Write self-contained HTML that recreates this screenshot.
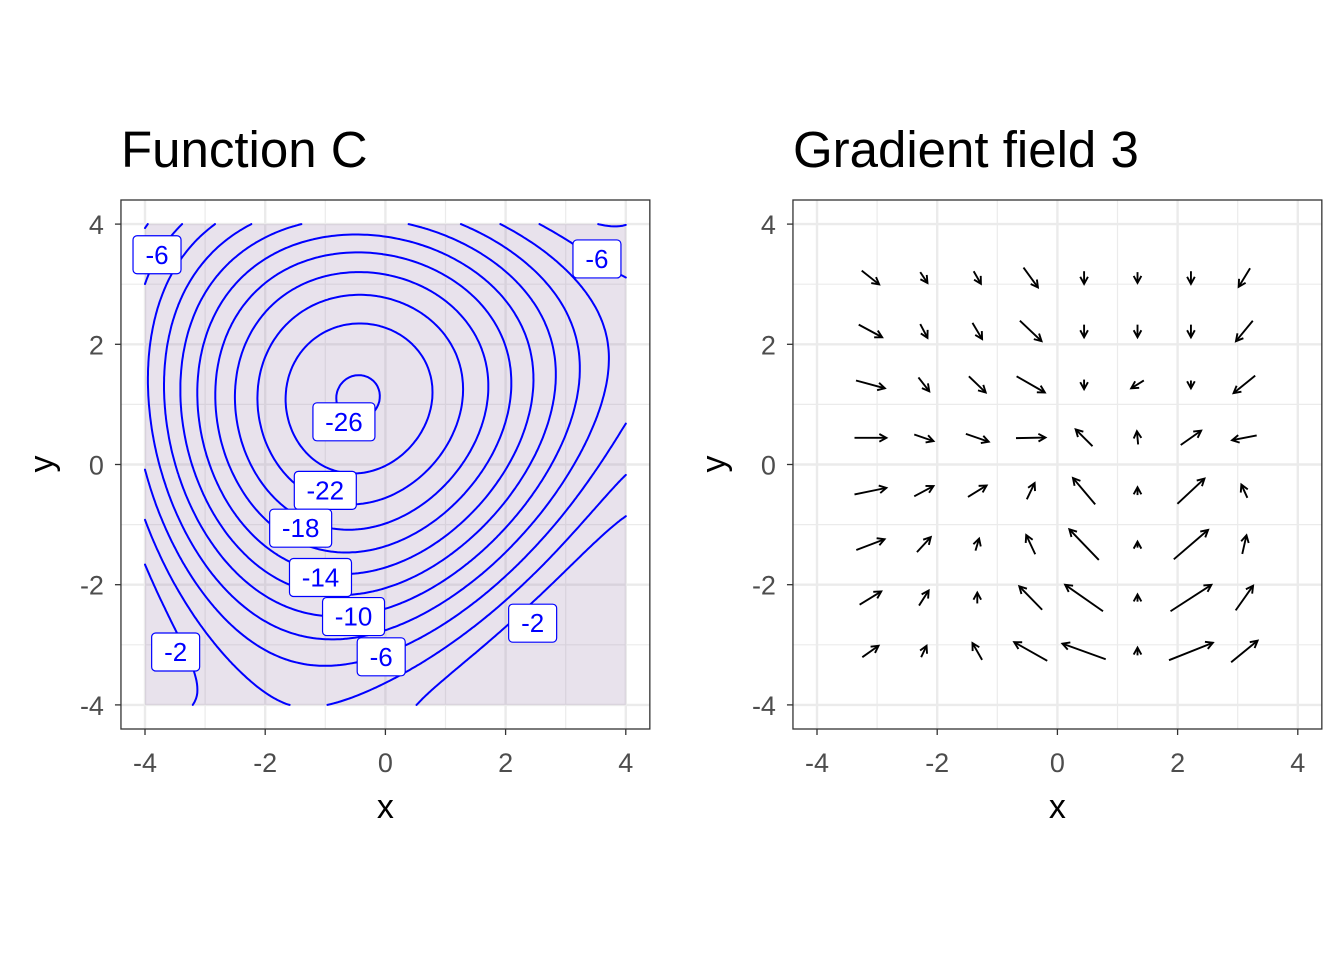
<!DOCTYPE html>
<html><head><meta charset="utf-8"><style>
html,body{margin:0;padding:0;background:#fff}
svg{display:block;font-family:"Liberation Sans",sans-serif}
</style></head><body>
<svg id="chart" width="1344" height="960" viewBox="0 0 1344 960">
<rect width="1344" height="960" fill="#fff"/>
<g id="left"></g>
<g id="right"></g>
</svg>
<script>
// ---- data ----
const gridX = [-4,-3,-2,-1,0,1,2,3,4];
const gridY = [4,3,2,1,0,-1,-2,-3,-4];
const zRow4 = [-5,-7.9,-10.6,-11.8,-11.8,-10.3,-8.2,-5.7,-4.5];
const zRow3 = [-5.9,-10.9,-15.2,-18.1,-18.3,-16.8,-13.2,-8,-5.5];
const zRow2 = [-7,-13.6,-20,-23.5,-24,-20.5,-15.3,-10.3,-7];
const zRow1 = [-7.6,-13.8,-20.2,-25.5,-26.6,-22,-16.5,-11.5,-6];
const zRow0 = [-5.4,-12.3,-19.2,-23.5,-23.3,-20.2,-14,-9.2,-4.1];
const zRowM1 = [-3.8,-10.2,-16.5,-19,-16.3,-11.9,-8.6,-4.4,-1.8];
const zRowM2 = [-2.2,-6.7,-12,-13.3,-10,-6.5,-3.7,-2.2,-0.5];
const zRowM3 = [-1.3,-3.2,-5.8,-7.9,-5.5,-4,-2.1,-0.8,0.5];
const zRowM4 = [0.5,-1.8,-3.6,-4.9,-3.4,-1.6,0,1.5,2.5];
const levels = [-26,-24,-22,-20,-18,-16,-14,-12,-10,-8,-6,-4,-2];
const labelText = ["-6","-6","-26","-22","-18","-14","-10","-6","-2","-2"];
const labelX = [-3.8,3.52,-0.69,-1.0,-1.41,-1.08,-0.53,-0.07,2.45,-3.49];
const labelY = [3.49,3.42,0.71,-0.43,-1.06,-1.88,-2.53,-3.2,-2.64,-3.12];
const tickVals = [-4,-2,0,2,4];
const tickLabels = ["-4","-2","0","2","4"];
const arrowX = [-3.111,-2.222,-1.333,-0.444,0.444,1.333,2.222,3.111];
const arrowY = [3.111,2.222,1.333,0.444,-0.444,-1.333,-2.222,-3.111];
const uRows = [
 [.29,.12,.12,.24,0,0,0,-.19],
 [.39,.12,.16,.36,0,0,0,-.28],
 [.48,.18,.28,.47,0,-.21,0,-.36],
 [.53,.32,.38,.49,-.28,-.02,.34,-.41],
 [.53,.32,.31,.13,-.37,0,.45,-.10],
 [.47,.23,.06,-.15,-.49,0,.57,.07],
 [.36,.16,0,-.38,-.63,0,.68,.29],
 [.27,.09,-.16,-.55,-.72,0,.73,.44]];
const vRows = [
 [-.23,-.18,-.21,-.33,-.21,-.18,-.21,-.31],
 [-.21,-.23,-.27,-.34,-.21,-.21,-.21,-.34],
 [-.13,-.23,-.27,-.27,-.16,-.13,-.13,-.29],
 [0,-.11,-.13,.01,.28,.22,.24,-.08],
 [.11,.17,.19,.27,.44,.13,.42,.22],
 [.18,.25,.2,.32,.51,.10,.49,.31],
 [.22,.25,.18,.39,.44,.12,.44,.41],
 [.19,.19,.28,.31,.26,.13,.29,.36]];
const zGrid = [zRow4,zRow3,zRow2,zRow1,zRow0,zRowM1,zRowM2,zRowM3,zRowM4];

const NS = "http://www.w3.org/2000/svg";
function mk(tag, attrs, parent){const e=document.createElementNS(NS,tag);for(const k in attrs)e.setAttribute(k,attrs[k]);parent.appendChild(e);return e;}
const PPU = 60.1;
function axes(x0){ return {sx: v => x0 + (v+4)*PPU, sy: v => 464.5 - v*PPU}; }
function panel(g, x0, ax){
  const left = x0 - 0.4*PPU, right = x0 + 8.4*PPU, top = 200, bottom = 729;
  const bg = mk('rect',{x:left,y:top,width:right-left,height:bottom-top,fill:'#fff'},g);
   
  for(let v=-3; v<=3; v+=2){
    const a=mk('line',{x1:ax.sx(v),x2:ax.sx(v),y1:top,y2:bottom,stroke:'#ebebeb','stroke-width':1.2},g);
     
    const b=mk('line',{y1:ax.sy(v),y2:ax.sy(v),x1:left,x2:right,stroke:'#ebebeb','stroke-width':1.2},g);
     
  }
  tickVals.forEach(v=>{
    const a=mk('line',{x1:ax.sx(v),x2:ax.sx(v),y1:top,y2:bottom,stroke:'#ebebeb','stroke-width':2.4},g);
     
    const b=mk('line',{y1:ax.sy(v),y2:ax.sy(v),x1:left,x2:right,stroke:'#ebebeb','stroke-width':2.4},g);
     
  });
  g._box = {left,right,top,bottom};
}
function frame(g, ax, title){
  const {left,right,top,bottom} = g._box;
  const f=mk('rect',{x:left,y:top,width:right-left,height:bottom-top,fill:'none',stroke:'#333','stroke-width':1.3},g);
   
  tickVals.forEach((v,i)=>{
    const t1=mk('line',{x1:ax.sx(v),x2:ax.sx(v),y1:bottom,y2:bottom+6,stroke:'#333','stroke-width':1.3},g);
     
    const l1=mk('text',{x:ax.sx(v),y:bottom+43,'text-anchor':'middle','font-size':27,fill:'#4d4d4d'},g);
    l1.textContent=tickLabels[i];
     
    const t2=mk('line',{x1:left-6,x2:left,y1:ax.sy(v),y2:ax.sy(v),stroke:'#333','stroke-width':1.3},g);
     
    const l2=mk('text',{x:left-17,y:ax.sy(v)+10,'text-anchor':'end','font-size':27,fill:'#4d4d4d'},g);
    l2.textContent=tickLabels[i];
     
  });
  const xt=mk('text',{x:(left+right)/2,y:818,'text-anchor':'middle','font-size':34,fill:'#000'},g);
  xt.textContent='x';
   
  const yt=mk('text',{x:0,y:0,'text-anchor':'middle','font-size':34,fill:'#000',transform:`translate(${left-68},${464}) rotate(-90)`},g);
  yt.textContent='y';
   
  const tt=mk('text',{x:left,y:167,'font-size':51,fill:'#000'},g);
  tt.textContent=title;
   
}

// ---- left: contour ----
const gL = document.getElementById('left');
const axL = axes(145);
panel(gL,145,axL);
const tile = mk('rect',{x:axL.sx(-4),y:axL.sy(4),width:8*PPU,height:8*PPU,fill:'#8b6fa0','fill-opacity':0.2},gL);
 

// smooth surface: least-squares polynomial (total degree 4) fit to grid values
const DEG=4, terms=[];
for(let i=0;i<=DEG;i++)for(let j=0;j<=DEG-i;j++)terms.push([i,j]);
function basis(x,y){return terms.map(([i,j])=>Math.pow(x/4,i)*Math.pow(y/4,j));}
const M=terms.length, A=[], B=new Array(M).fill(0);
for(let i=0;i<M;i++)A.push(new Array(M).fill(0));
gridY.forEach((y,r)=>gridX.forEach((x,c)=>{
  const b=basis(x,y), z=zGrid[r][c];
  for(let i=0;i<M;i++){B[i]+=b[i]*z;for(let j=0;j<M;j++)A[i][j]+=b[i]*b[j];}
}));
for(let i=0;i<M;i++){
  let p=i;for(let k=i+1;k<M;k++)if(Math.abs(A[k][i])>Math.abs(A[p][i]))p=k;
  [A[i],A[p]]=[A[p],A[i]];[B[i],B[p]]=[B[p],B[i]];
  for(let k=i+1;k<M;k++){const f=A[k][i]/A[i][i];for(let j=i;j<M;j++)A[k][j]-=f*A[i][j];B[k]-=f*B[i];}
}
const coef=new Array(M).fill(0);
for(let i=M-1;i>=0;i--){let s=B[i];for(let j=i+1;j<M;j++)s-=A[i][j]*coef[j];coef[i]=s/A[i][i];}
function f(x,y){const b=basis(x,y);let s=0;for(let i=0;i<M;i++)s+=b[i]*coef[i];return s;}

const N=160, step=8/N;
const F=[];
for(let i=0;i<=N;i++){F.push([]);for(let j=0;j<=N;j++)F[i].push(f(-4+j*step,4-i*step));}
levels.forEach(L=>{
  let d='';
  for(let i=0;i<N;i++)for(let j=0;j<N;j++){
    const a=F[i][j],b=F[i][j+1],c=F[i+1][j+1],e=F[i+1][j];
    const pts=[];
    const edge=(v1,v2,x1,y1,x2,y2)=>{ if((v1<L)!==(v2<L)){const t=(L-v1)/(v2-v1);pts.push([x1+(x2-x1)*t,y1+(y2-y1)*t]);} };
    const X0=-4+j*step, X1=X0+step, Y0=4-i*step, Y1=Y0-step;
    edge(a,b,X0,Y0,X1,Y0); edge(b,c,X1,Y0,X1,Y1); edge(c,e,X1,Y1,X0,Y1); edge(e,a,X0,Y1,X0,Y0);
    for(let k=0;k+1<pts.length;k+=2)
      d+=`M${axL.sx(pts[k][0]).toFixed(1)},${axL.sy(pts[k][1]).toFixed(1)}L${axL.sx(pts[k+1][0]).toFixed(1)},${axL.sy(pts[k+1][1]).toFixed(1)}`;
  }
  const p=mk('path',{d:d,fill:'none',stroke:'#0000ff','stroke-width':2,'stroke-linecap':'round'},gL);
   
});
labelText.forEach((t,i)=>{
  const w = t.length*14+20, h=38, cx=axL.sx(labelX[i]), cy=axL.sy(labelY[i]);
  const g=mk('g',{},gL);
   
  mk('rect',{x:cx-w/2,y:cy-h/2,width:w,height:h,rx:4,fill:'#fff',stroke:'#0000ff','stroke-width':1.2},g);
  const tx=mk('text',{x:cx,y:cy+9,'text-anchor':'middle','font-size':26,fill:'#0000ff'},g);
  tx.textContent=t;
});
frame(gL,axL,'Function C');

// ---- right: gradient field ----
const gR = document.getElementById('right');
const axR = axes(817);
panel(gR,817,axR);
arrowY.forEach((y,r)=>arrowX.forEach((x,c)=>{
  const u=uRows[r][c], v=vRows[r][c];
  const x1=axR.sx(x-u/2), y1=axR.sy(y-v/2), x2=axR.sx(x+u/2), y2=axR.sy(y+v/2);
  const g=mk('g',{stroke:'#000','stroke-width':1.9,fill:'none','stroke-linecap':'butt'},gR);
   
  mk('line',{x1:x1,y1:y1,x2:x2,y2:y2},g);
  const ang=Math.atan2(y2-y1,x2-x1), hl=8, ha=0.5;
  const p1=[x2-hl*Math.cos(ang-ha),y2-hl*Math.sin(ang-ha)], p2=[x2-hl*Math.cos(ang+ha),y2-hl*Math.sin(ang+ha)];
  mk('polyline',{points:`${p1[0]},${p1[1]} ${x2},${y2} ${p2[0]},${p2[1]}`},g);
}));
frame(gR,axR,'Gradient field 3');
</script>
</body></html>
